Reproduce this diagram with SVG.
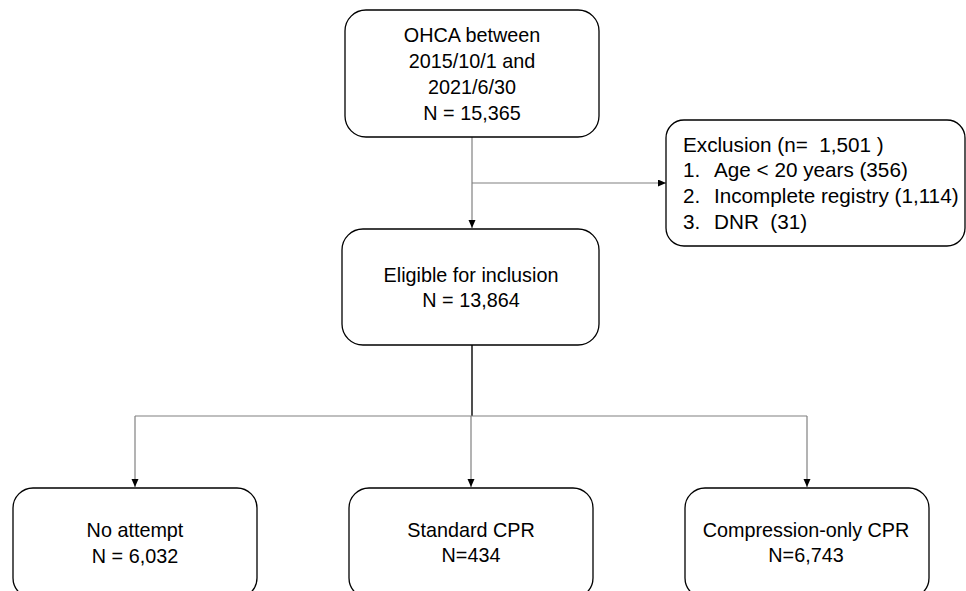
<svg xmlns="http://www.w3.org/2000/svg" width="966" height="591" viewBox="0 0 966 591">
<style>
.box{fill:#fff;stroke:#000;stroke-width:1.3}
.t{font-family:"Liberation Sans",Arial,sans-serif;font-size:19.8px;fill:#000;white-space:pre}
.x{font-size:20.7px}
.c{text-anchor:middle}
.ln{stroke:#808080;stroke-width:1.2;fill:none}
.dk{stroke:#222;stroke-width:1.6;fill:none}
</style>
<defs>
<marker id="ah" markerWidth="8" markerHeight="8" refX="8" refY="3.5" orient="auto" markerUnits="userSpaceOnUse">
<path d="M0,0 L8,3.5 L0,7 Z" fill="#000"/>
</marker>
</defs>
<rect width="966" height="591" fill="#fff"/>
<g id="connectors">
<line class="ln" x1="472" y1="137" x2="472" y2="228" marker-end="url(#ah)"/>
<line class="ln" x1="472" y1="183" x2="666" y2="183" marker-end="url(#ah)"/>
<line class="dk" x1="472" y1="345" x2="472" y2="416"/>
<line class="ln" x1="135" y1="416" x2="807" y2="416"/>
<line class="ln" x1="135" y1="416" x2="135" y2="487" marker-end="url(#ah)"/>
<line class="ln" x1="471" y1="416" x2="471" y2="487" marker-end="url(#ah)"/>
<line class="ln" x1="807" y1="416" x2="807" y2="487" marker-end="url(#ah)"/>
</g>
<g id="ohca">
<rect class="box" x="345" y="10" width="254" height="127" rx="21"/>
<text class="t c" x="472" y="42">OHCA between</text>
<text class="t c" x="472" y="68">2015/10/1 and</text>
<text class="t c" x="472" y="94">2021/6/30</text>
<text class="t c" x="472" y="120">N = 15,365</text>
</g>
<g id="exclusion">
<rect class="box" x="666" y="120" width="299" height="126" rx="18"/>
<text class="t x" x="683" y="152" xml:space="preserve">Exclusion (n=  1,501 )</text>
<text class="t x" x="683" y="177">1.</text><text class="t x" x="714" y="177">Age &lt; 20 years (356)</text>
<text class="t x" x="683" y="203">2.</text><text class="t x" x="714" y="203">Incomplete registry (1,114)</text>
<text class="t x" x="683" y="229">3.</text><text class="t x" x="714" y="229" xml:space="preserve">DNR  (31)</text>
</g>
<g id="eligible">
<rect class="box" x="342" y="229" width="257" height="116" rx="21"/>
<text class="t c" x="471" y="282">Eligible for inclusion</text>
<text class="t c" x="471" y="307">N = 13,864</text>
</g>
<g id="noattempt">
<rect class="box" x="13" y="488" width="244" height="110" rx="20"/>
<text class="t c" x="135" y="537">No attempt</text>
<text class="t c" x="135" y="563">N = 6,032</text>
</g>
<g id="standard">
<rect class="box" x="349" y="488" width="244" height="110" rx="20"/>
<text class="t c" x="471" y="537">Standard CPR</text>
<text class="t c" x="471" y="562">N=434</text>
</g>
<g id="compression">
<rect class="box" x="685" y="488" width="244" height="110" rx="20"/>
<text class="t c" x="806" y="537">Compression-only CPR</text>
<text class="t c" x="806" y="562">N=6,743</text>
</g>
</svg>
